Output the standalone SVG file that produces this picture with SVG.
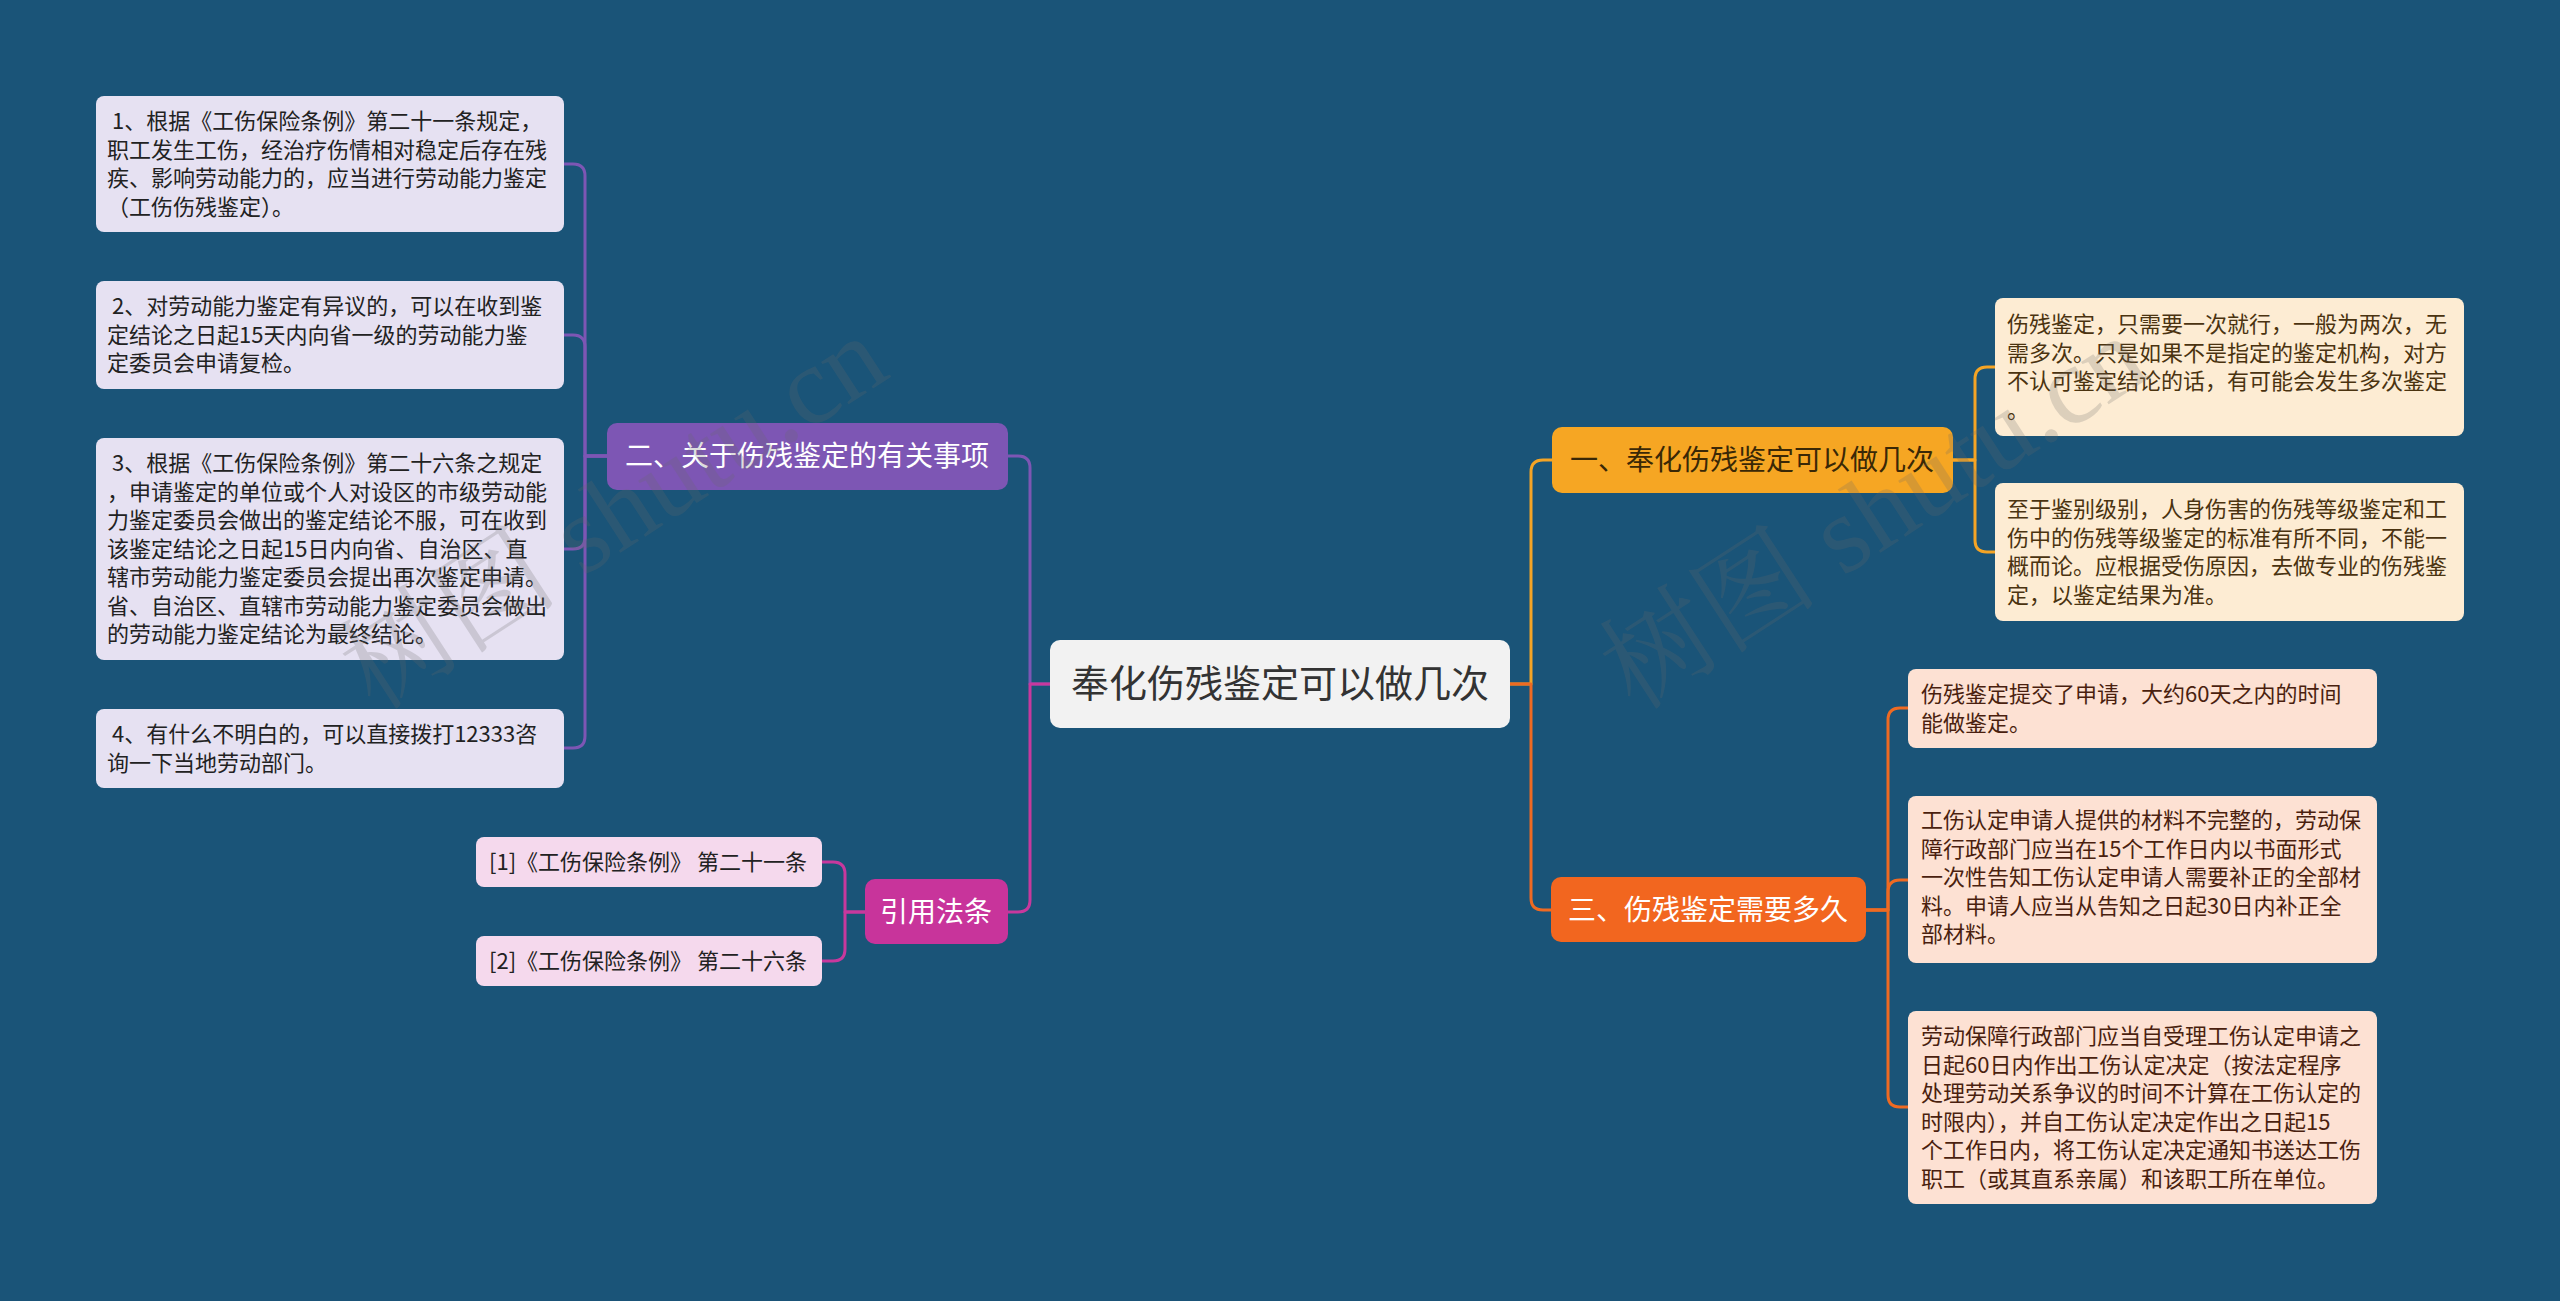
<svg xmlns="http://www.w3.org/2000/svg" width="2560" height="1301" viewBox="0 0 2560 1301">
<style>
text{font-family:"Noto Sans CJK SC","Microsoft YaHei","Noto Sans",sans-serif;}
.t{font-size:22px;}
.lav{fill:#e6e1f2;}
.cream{fill:#fdecd3;}
.peach{fill:#fde1d3;}
.pink{fill:#f5d9ed;}
.dk{fill:#222222;}
.br1{fill:#4a3310;}
.br3{fill:#4a1f0f;}
.bt{font-size:28px;text-anchor:middle;}
.c{fill:none;stroke-width:3;stroke-linejoin:round;}
.wm{font-family:"Liberation Serif","Noto Serif CJK SC","Noto Sans CJK SC",serif;font-size:110px;fill:#6a6a6a;opacity:0.22;}
</style>
<rect x="0" y="0" width="2560" height="1301" fill="#1a5478"/>

<g id="connectors">
<path class="c" stroke="#f4a425" d="M1510,684 H1531 V472 Q1531,460 1543,460 H1552"/>
<path class="c" stroke="#ee6a22" d="M1510,684 H1531 V898 Q1531,910 1543,910 H1551"/>
<path class="c" stroke="#7d56b4" d="M1050,684 H1030 V468 Q1030,456 1018,456 H1008"/>
<path class="c" stroke="#c8389d" d="M1050,684 H1030 V900 Q1030,912 1018,912 H1008"/>
<path class="c" stroke="#f4a425" d="M1953,460 H1975 V379 Q1975,367 1987,367 H1995"/>
<path class="c" stroke="#f4a425" d="M1953,460 H1975 V540 Q1975,552 1987,552 H1995"/>
<path class="c" stroke="#ee6a22" d="M1866,910 H1888 V720 Q1888,708 1900,708 H1908"/>
<path class="c" stroke="#ee6a22" d="M1866,910 H1888 V892 Q1888,880 1900,880 H1908"/>
<path class="c" stroke="#ee6a22" d="M1866,910 H1888 V1095 Q1888,1107 1900,1107 H1908"/>
<path class="c" stroke="#7d56b4" d="M607,456 H585 V176 Q585,164 573,164 H564"/>
<path class="c" stroke="#7d56b4" d="M607,456 H585 V347 Q585,335 573,335 H564"/>
<path class="c" stroke="#7d56b4" d="M607,456 H585 V537 Q585,549 573,549 H564"/>
<path class="c" stroke="#7d56b4" d="M607,456 H585 V736 Q585,748 573,748 H564"/>
<path class="c" stroke="#c8389d" d="M865,912 H845 V874 Q845,862 833,862 H822"/>
<path class="c" stroke="#c8389d" d="M865,912 H845 V949 Q845,961 833,961 H822"/>
</g>

<g id="root">
<rect x="1050" y="640" width="460" height="88" rx="10" fill="#f2f2f2"/>
<text x="1280" y="697" font-size="38" text-anchor="middle" fill="#333333">奉化伤残鉴定可以做几次</text>
</g>

<g id="b1">
<rect x="1552" y="427" width="401" height="66" rx="10" fill="#f6a623"/>
<text class="bt" x="1752" y="470" fill="#3a2806">一、奉化伤残鉴定可以做几次</text>
</g>
<g id="b3">
<rect x="1551" y="877" width="315" height="65" rx="10" fill="#f2661f"/>
<text class="bt" x="1708" y="920" fill="#ffffff">三、伤残鉴定需要多久</text>
</g>
<g id="b2">
<rect x="607" y="423" width="401" height="67" rx="10" fill="#7d56b4"/>
<text class="bt" x="807" y="466" fill="#ffffff">二、关于伤残鉴定的有关事项</text>
</g>
<g id="b4">
<rect x="865" y="879" width="143" height="65" rx="10" fill="#c8349b"/>
<text class="bt" x="936" y="922" fill="#ffffff">引用法条</text>
</g>

<g id="n2a">
<rect class="lav" x="96" y="96" width="468" height="136" rx="8"/>
<text class="t dk"><tspan x="107" y="129">&#160;1、根据《工伤保险条例》第二十一条规定，</tspan><tspan x="107" y="158">职工发生工伤，经治疗伤情相对稳定后存在残</tspan><tspan x="107" y="186">疾、影响劳动能力的，应当进行劳动能力鉴定</tspan><tspan x="107" y="215">（工伤伤残鉴定）。</tspan></text>
</g>
<g id="n2b">
<rect class="lav" x="96" y="281" width="468" height="108" rx="8"/>
<text class="t dk"><tspan x="107" y="314">&#160;2、对劳动能力鉴定有异议的，可以在收到鉴</tspan><tspan x="107" y="343">定结论之日起15天内向省一级的劳动能力鉴</tspan><tspan x="107" y="371">定委员会申请复检。</tspan></text>
</g>
<g id="n2c">
<rect class="lav" x="96" y="438" width="468" height="222" rx="8"/>
<text class="t dk"><tspan x="107" y="471">&#160;3、根据《工伤保险条例》第二十六条之规定</tspan><tspan x="107" y="500">，申请鉴定的单位或个人对设区的市级劳动能</tspan><tspan x="107" y="528">力鉴定委员会做出的鉴定结论不服，可在收到</tspan><tspan x="107" y="557">该鉴定结论之日起15日内向省、自治区、直</tspan><tspan x="107" y="585">辖市劳动能力鉴定委员会提出再次鉴定申请。</tspan><tspan x="107" y="614">省、自治区、直辖市劳动能力鉴定委员会做出</tspan><tspan x="107" y="642">的劳动能力鉴定结论为最终结论。</tspan></text>
</g>
<g id="n2d">
<rect class="lav" x="96" y="709" width="468" height="79" rx="8"/>
<text class="t dk"><tspan x="107" y="742">&#160;4、有什么不明白的，可以直接拨打12333咨</tspan><tspan x="107" y="771">询一下当地劳动部门。</tspan></text>
</g>

<g id="r1">
<rect class="pink" x="476" y="837" width="346" height="50" rx="8"/>
<text class="t dk" x="489" y="870">[1]《工伤保险条例》 第二十一条</text>
</g>
<g id="r2">
<rect class="pink" x="476" y="936" width="346" height="50" rx="8"/>
<text class="t dk" x="489" y="969">[2]《工伤保险条例》 第二十六条</text>
</g>

<g id="n1a">
<rect class="cream" x="1995" y="298" width="469" height="138" rx="8"/>
<text class="t br1"><tspan x="2007" y="332">伤残鉴定，只需要一次就行，一般为两次，无</tspan><tspan x="2007" y="361">需多次。只是如果不是指定的鉴定机构，对方</tspan><tspan x="2007" y="389">不认可鉴定结论的话，有可能会发生多次鉴定</tspan><tspan x="2007" y="418">。</tspan></text>
</g>
<g id="n1b">
<rect class="cream" x="1995" y="483" width="469" height="138" rx="8"/>
<text class="t br1"><tspan x="2007" y="517">至于鉴别级别，人身伤害的伤残等级鉴定和工</tspan><tspan x="2007" y="546">伤中的伤残等级鉴定的标准有所不同，不能一</tspan><tspan x="2007" y="574">概而论。应根据受伤原因，去做专业的伤残鉴</tspan><tspan x="2007" y="603">定，以鉴定结果为准。</tspan></text>
</g>

<g id="n3a">
<rect class="peach" x="1908" y="669" width="469" height="79" rx="8"/>
<text class="t br3"><tspan x="1921" y="702">伤残鉴定提交了申请，大约60天之内的时间</tspan><tspan x="1921" y="731">能做鉴定。</tspan></text>
</g>
<g id="n3b">
<rect class="peach" x="1908" y="796" width="469" height="167" rx="8"/>
<text class="t br3"><tspan x="1921" y="828">工伤认定申请人提供的材料不完整的，劳动保</tspan><tspan x="1921" y="857">障行政部门应当在15个工作日内以书面形式</tspan><tspan x="1921" y="885">一次性告知工伤认定申请人需要补正的全部材</tspan><tspan x="1921" y="914">料。申请人应当从告知之日起30日内补正全</tspan><tspan x="1921" y="942">部材料。</tspan></text>
</g>
<g id="n3c">
<rect class="peach" x="1908" y="1011" width="469" height="193" rx="8"/>
<text class="t br3"><tspan x="1921" y="1044">劳动保障行政部门应当自受理工伤认定申请之</tspan><tspan x="1921" y="1073">日起60日内作出工伤认定决定（按法定程序</tspan><tspan x="1921" y="1101">处理劳动关系争议的时间不计算在工伤认定的</tspan><tspan x="1921" y="1130">时限内），并自工伤认定决定作出之日起15</tspan><tspan x="1921" y="1158">个工作日内，将工伤认定决定通知书送达工伤</tspan><tspan x="1921" y="1187">职工（或其直系亲属）和该职工所在单位。</tspan></text>
</g>

<g id="watermarks">
<text class="wm" x="375" y="712" transform="rotate(-33 375 712)">树图 shutu.cn</text>
<text class="wm" x="1635" y="712" transform="rotate(-33 1635 712)">树图 shutu.cn</text>
</g>
</svg>
